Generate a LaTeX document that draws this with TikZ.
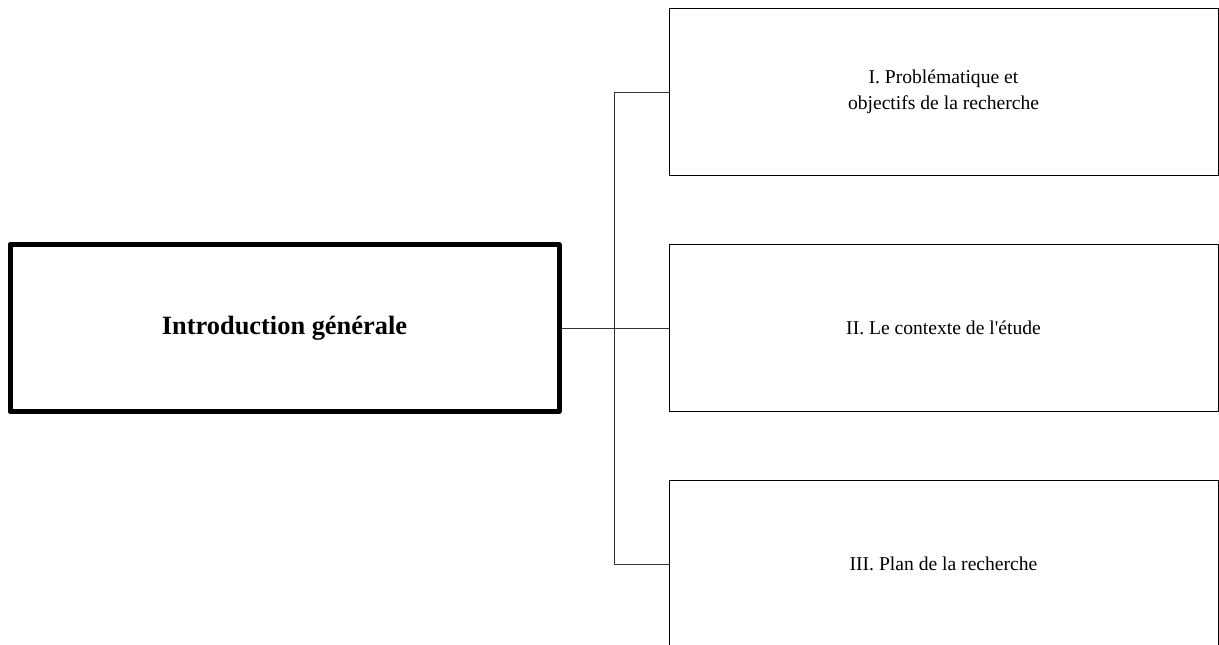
\documentclass[tikz,border=0pt]{standalone}
\usepackage{fontspec}
\setmainfont{Liberation Serif}[Ligatures=TeXOff]
\begin{document}
\begin{tikzpicture}[x=1pt,y=-1pt,
  mainbox/.style={draw=black,line width=5pt,line join=round,minimum width=549pt,minimum height=167pt,inner sep=0pt,
    font=\fontsize{26.4}{30}\selectfont\bfseries},
  partbox/.style={draw=black,line width=0.9pt,minimum width=549pt,minimum height=167pt,inner sep=0pt,align=center,
    font=\fontsize{19.6}{26}\selectfont},
  link/.style={draw=black!80,line width=0.9pt}]
\useasboundingbox (0,0) rectangle (1219,645);
\node[mainbox] (intro) at (284.5,328) {Introduction générale};
\node[partbox] (p1) at (943.5,92) {I. Problématique et\\objectifs de la recherche};
\node[partbox] (p2) at (943.5,328) {II. Le contexte de l'étude};
\node[partbox] (p3) at (943.5,564) {III. Plan de la recherche};
\coordinate (bus) at (614,328);
\draw[link] (intro.east) -- (p2.west);
\draw[link] (p1.west) -- (p1.west -| bus) -- (p3.west -| bus) -- (p3.west);
\end{tikzpicture}
\end{document}
